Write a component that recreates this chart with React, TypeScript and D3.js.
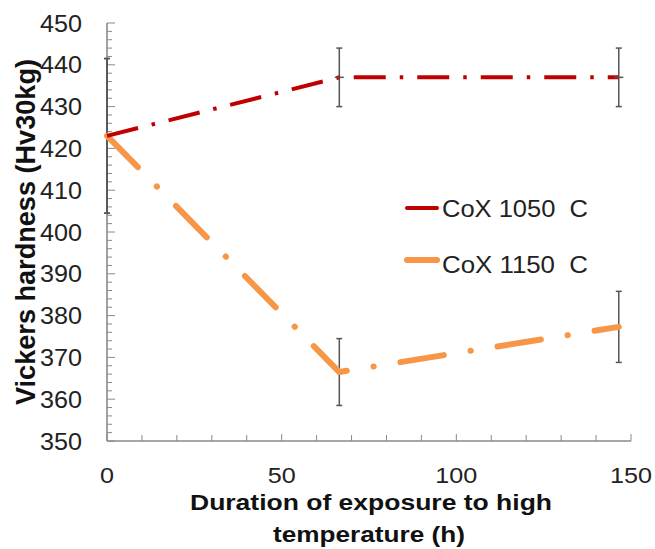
import React from "react";
import * as d3 from "d3";

const hours = [0, 66.5, 146.5];
const cox1050 = [423, 437, 437];
const cox1050Err = [18.5, 7, 7];
const cox1150 = [423, 366.5, 377.3];
const cox1150Err = [18.5, 8, 8.5];
const seriesNames = ["CoX 1050  C", "CoX 1150  C"];
const xTicks = [0, 50, 100, 150];
const yTicks = [350, 360, 370, 380, 390, 400, 410, 420, 430, 440, 450];
const yTitle = "Vickers hardness (Hv30kg)";
const xTitle1 = "Duration of exposure to high";
const xTitle2 = "temperature (h)";

const W = 655, H = 549;
const FONT = "'Liberation Sans', Arial, Helvetica, sans-serif";

export default function App() {
  const x = d3.scaleLinear().domain([0, 150]).range([107, 631]);
  const y = d3.scaleLinear().domain([350, 450]).range([441, 23]);
  const line = d3.line<[number, number]>().x((d) => x(d[0])).y((d) => y(d[1]));
  const redPts = hours.map((h, i) => [h, cox1050[i]] as [number, number]);
  const orPts = hours.map((h, i) => [h, cox1150[i]] as [number, number]);
  const yMinor = d3.range(350, 451, 2);
  const xMinor = d3.range(0, 151, 10);
  const red = "#C00000";
  const orange = "#F79646";
  const axisCol = "#8a8a8a";
  const errCol = "#555";

  const errBars = (vals: number[], errs: number[], key: string) =>
    hours.map((h, i) => {
      const cx = x(h);
      const y1 = y(vals[i] + errs[i]);
      const y2 = y(vals[i] - errs[i]);
      return (
        <g key={key + i} stroke={errCol} strokeWidth={1.5}>
          <line x1={cx} x2={cx} y1={y1} y2={y2} />
          <line x1={cx - 3} x2={cx + 3} y1={y1} y2={y1} />
          <line x1={cx - 3} x2={cx + 3} y1={y2} y2={y2} />
        </g>
      );
    });

  return (
    <div style={{ position: "fixed", left: 0, top: 0 }}>
      <svg width={W} height={H} style={{ display: "block", background: "#fff" }}>
        {/* minor / major ticks y */}
        {yMinor.map((v) => (
          <line key={"ym" + v} x1={x(0)} x2={x(0) + (v % 10 === 0 ? 8 : 5)} y1={y(v)} y2={y(v)} stroke={axisCol} strokeWidth={1} />
        ))}
        {xMinor.map((v) => (
          <line key={"xm" + v} x1={x(v)} x2={x(v)} y1={y(350)} y2={y(350) - (v % 50 === 0 ? 7 : 6)} stroke={axisCol} strokeWidth={1} />
        ))}
        <line x1={x(0)} x2={x(0)} y1={y(450)} y2={y(350)} stroke={axisCol} strokeWidth={1.6} />
        <line x1={x(0)} x2={x(150)} y1={y(350)} y2={y(350)} stroke={axisCol} strokeWidth={1.6} />

        {/* error bars */}
        {errBars(cox1050, cox1050Err, "r")}
        {errBars(cox1150, cox1150Err, "o")}

        {/* series */}
        <path d={line(orPts) || ""} fill="none" stroke={orange} strokeWidth={6} strokeLinecap="round" strokeLinejoin="round" strokeDasharray="44,27,0.3,27" />
        <path d={line(redPts) || ""} fill="none" stroke={red} strokeWidth={4} strokeDasharray="32,14,3.5,14" />
        {redPts.slice(1).map((p, i) => (
          <line key={"rx" + i} x1={x(p[0]) - 4.5} x2={x(p[0]) + 4.5} y1={y(p[1])} y2={y(p[1])} stroke={errCol} strokeWidth={1.5} />
        ))}

        {/* y tick labels */}
        {yTicks.map((v) => (
          <text key={"yt" + v} x={82} y={y(v) + 8.5} textAnchor="end" fontFamily={FONT} fontSize={23} fill="#222" textLength={42} lengthAdjust="spacingAndGlyphs">
            {v}
          </text>
        ))}
        {xTicks.map((v) => {
          const s = String(v);
          return (
            <text key={"xt" + v} x={x(v)} y={483} textAnchor="middle" fontFamily={FONT} fontSize={22.5} fill="#222" textLength={s.length * 14} lengthAdjust="spacingAndGlyphs">
              {s}
            </text>
          );
        })}

        {/* axis titles */}
        <text transform={`translate(35,232) rotate(-90)`} textAnchor="middle" fontFamily={FONT} fontWeight="bold" fontSize={27} fill="#111" textLength={346} lengthAdjust="spacingAndGlyphs">
          {yTitle}
        </text>
        <text x={371} y={510} textAnchor="middle" fontFamily={FONT} fontWeight="bold" fontSize={22} fill="#111" textLength={362} lengthAdjust="spacingAndGlyphs">
          {xTitle1}
        </text>
        <text x={369} y={542} textAnchor="middle" fontFamily={FONT} fontWeight="bold" fontSize={22} fill="#111" textLength={192} lengthAdjust="spacingAndGlyphs">
          {xTitle2}
        </text>

        {/* legend */}
        <line x1={407} x2={437} y1={208} y2={208} stroke={red} strokeWidth={4} strokeLinecap="round" />
        <text x={442} y={217} fontFamily={FONT} fontSize={23} fill="#222" style={{ whiteSpace: "pre" }} textLength={146} lengthAdjust="spacingAndGlyphs">
          {seriesNames[0]}
        </text>
        <line x1={407} x2={437} y1={260} y2={260} stroke={orange} strokeWidth={6} strokeLinecap="round" />
        <text x={442} y={273} fontFamily={FONT} fontSize={23} fill="#222" style={{ whiteSpace: "pre" }} textLength={146} lengthAdjust="spacingAndGlyphs">
          {seriesNames[1]}
        </text>
      </svg>
    </div>
  );
}
